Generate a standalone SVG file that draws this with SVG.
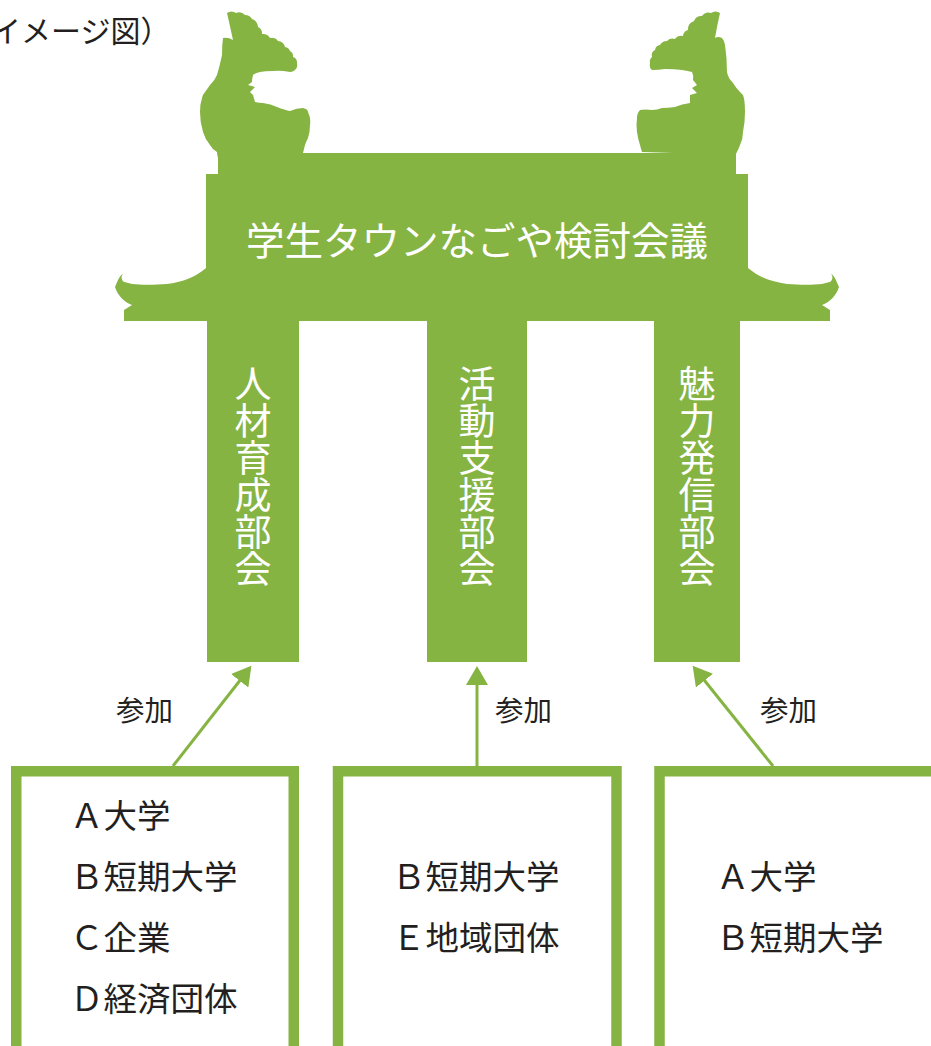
<svg xmlns="http://www.w3.org/2000/svg" width="931" height="1046" viewBox="0 0 931 1046">
  <style>
    .gate { fill: #86b443; }
    .jp { font-family: "Noto Sans CJK JP", "Noto Sans", sans-serif; }
    .white { fill: #ffffff; }
    .dark { fill: #231f20; }
    .box { fill: #ffffff; stroke: #86b443; stroke-width: 10.5; }
    .conn { stroke: #86b443; stroke-width: 3; fill: none; }
    .vert { writing-mode: vertical-rl; font-size: 37px; fill: #ffffff; }
    .member { font-size: 33.5px; }
    .label { font-size: 28.5px; }
  </style>
  <defs>
    <marker id="arrow" viewBox="0 0 19 22" refX="1" refY="11" markerWidth="19" markerHeight="22" markerUnits="userSpaceOnUse" orient="auto">
      <path d="M0,0 L19,11 L0,22 Z" fill="#86b443"/>
    </marker>
  </defs>

  <rect width="931" height="1046" fill="#ffffff"/>

  <!-- caption, running in from the left edge -->
  <text class="jp dark" x="-9" y="42" font-size="30">イメージ図）</text>

  <!-- the gate -->
  <g id="gate">
    <!-- left shachihoko -->
    <path class="gate" d="M227,13 A8,8 0 0 1 236,13 A8,8 0 0 1 245,15 A8,8 0 0 1 252,19 A9,9 0 0 1 258,27 A7,7 0 0 1 262,34 A8,8 0 0 1 270,38 A8,8 0 0 1 278,41 A8,8 0 0 1 285,47 A6,6 0 0 1 290,51 A6,6 0 0 1 293,57 A6,6 0 0 1 297,63 Q298,68 295,70 Q293,72 290,72 Q280,70 273,71 Q265,71 260,72 Q255,73 253,75 Q252,79 252,82 L248,85 L255,87 L250,92 L253,95 L255,102 Q259,103 263,103 Q271,104 277,107 Q285,110 290,111 Q297,108 303,108 Q308,109 308,112 Q311,118 310,125 Q310,132 308,138 Q306,142 305,145 Q304,149 303,153 L218,158 Q217,154 217,152 Q212,149 210,145 Q205,139 203,132 Q200,122 200,112 Q200,104 202,98 Q203,94 205,92 Q208,88 210,85 Q215,80 217,75 Q220,65 222,55 Q222,45 223,38 Q228,37 233,40 Q230,26 227,13 Z"/>
    <!-- right shachihoko -->
    <path class="gate" d="M720,13 A8,8 0 0 0 711,13 A8,8 0 0 0 702,16 A8,8 0 0 0 694,21 A9,9 0 0 0 688,30 A7,7 0 0 0 683,36 A8,8 0 0 0 675,39 A8,8 0 0 0 667,41 A8,8 0 0 0 660,45 A6,6 0 0 0 655,50 A6,6 0 0 0 652,57 A6,6 0 0 0 650,63 Q649,68 652,70 Q658,70 665,69 Q674,69 682,70 Q688,71 692,72 Q694,76 693,80 L697,85 L692,88 L697,93 L690,95 L690,103 Q682,104 675,107 Q668,108 662,108 Q657,110 652,110 Q645,109 640,110 Q637,113 637,118 Q636,125 637,132 Q638,139 640,145 Q641,149 642,152 L735,155 Q736,154 737,152 Q739,148 740,145 Q743,139 743,132 Q745,122 745,112 Q745,100 743,95 Q741,93 740,92 Q736,88 733,83 Q728,78 727,72 Q727,58 725,45 Q724,40 722,38 Q718,36 715,38 Q717,26 720,13 Z"/>
    <!-- beam with upturned eaves -->
    <path class="gate" d="M218,153 L736,153 L736,174 L748,174 L748,268 C760,278 772,282 787,284 C800,285 813,285 822,284 C826,283 828,282 830,282 C833,280 833,276 831,274 C834,275 836,280 839,287 C836,296 830,302 822,305 L830,310 L830,321 L124,321 L124,310 L132,305 C124,302 118,296 115,287 C118,280 120,275 123,274 C121,276 121,280 124,282 C126,282 128,283 132,284 C141,285 154,285 167,284 C182,282 194,278 206,268 L206,174 L218,174 Z"/>
    <text class="jp white" x="477" y="255" font-size="38.5" text-anchor="middle">学生タウンなごや検討会議</text>
  </g>

  <!-- pillars: the three sub-committees -->
  <g id="pillar-jinzai">
    <rect class="gate" x="207" y="318" width="92" height="344"/>
    <text class="jp vert" x="253" y="365">人材育成部会</text>
  </g>
  <g id="pillar-katsudo">
    <rect class="gate" x="427" y="318" width="100" height="344"/>
    <text class="jp vert" x="477" y="365">活動支援部会</text>
  </g>
  <g id="pillar-miryoku">
    <rect class="gate" x="654" y="318" width="86" height="344"/>
    <text class="jp vert" x="697" y="365">魅力発信部会</text>
  </g>

  <!-- participant groups -->
  <g id="group-1">
    <rect class="box" x="16.25" y="771.25" width="277.5" height="300"/>
    <text class="jp dark member">
      <tspan x="70" y="828">Ａ大学</tspan>
      <tspan x="70" y="889">Ｂ短期大学</tspan>
      <tspan x="70" y="950">Ｃ企業</tspan>
      <tspan x="70" y="1011">Ｄ経済団体</tspan>
    </text>
  </g>
  <g id="group-2">
    <rect class="box" x="338" y="771.25" width="278.5" height="300"/>
    <text class="jp dark member">
      <tspan x="392" y="889">Ｂ短期大学</tspan>
      <tspan x="392" y="950">Ｅ地域団体</tspan>
    </text>
  </g>
  <g id="group-3">
    <rect class="box" x="659.5" y="771.25" width="300" height="300"/>
    <text class="jp dark member">
      <tspan x="716" y="889">Ａ大学</tspan>
      <tspan x="716" y="950">Ｂ短期大学</tspan>
    </text>
  </g>

  <!-- participation arrows -->
  <g id="connectors">
    <line class="conn" x1="173" y1="766" x2="240.3" y2="680" marker-end="url(#arrow)"/>
    <line class="conn" x1="477" y1="766" x2="477" y2="684" marker-end="url(#arrow)"/>
    <line class="conn" x1="773" y1="766" x2="703.9" y2="679.8" marker-end="url(#arrow)"/>
    <text class="jp dark label" x="116" y="721">参加</text>
    <text class="jp dark label" x="495" y="721">参加</text>
    <text class="jp dark label" x="760" y="721">参加</text>
  </g>
</svg>
